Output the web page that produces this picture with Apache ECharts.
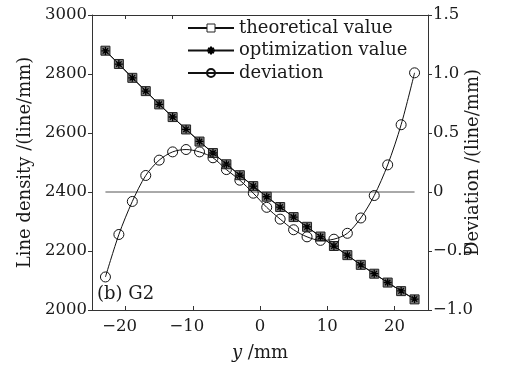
<!DOCTYPE html>
<html>
<head>
<meta charset="utf-8">
<script src="https://cdn.jsdelivr.net/npm/echarts@6/dist/echarts.min.js"></script>
<style>html,body{margin:0;padding:0;background:#fff;}#c{width:505px;height:365px;}</style>
</head>
<body>
<div id="c"></div>
<script>
var yPositions = [-23,-21,-19,-17,-15,-13,-11,-9,-7,-5,-3,-1,1,3,5,7,9,11,13,15,17,19,21,23];
var theoretical = [2879,2834,2787,2742,2697,2654,2612,2571,2532,2494,2457,2420,2384,2349,2315,2282,2249,2217,2186,2153,2123,2093,2064,2036];
var optimization = [2878.3,2833.6,2786.9,2742.1,2697.3,2654.3,2612.4,2571.3,2532.3,2494.2,2457.1,2420.0,2383.9,2348.8,2314.7,2281.6,2248.6,2216.6,2185.7,2152.8,2123.0,2093.2,2064.6,2037.0];
var deviation = [-0.72,-0.36,-0.08,0.14,0.27,0.34,0.36,0.34,0.29,0.19,0.10,-0.01,-0.13,-0.23,-0.32,-0.38,-0.41,-0.40,-0.35,-0.22,-0.03,0.23,0.57,1.01];
var xTicks = [-20,-10,0,10,20];
var topTicks = [-20,-13];
var seriesNames = ['theoretical value','optimization value','deviation'];
var panelLabel = '(b) G2';

var FONT = 'DejaVu Serif';
var TXT = '#1a1a1a';
var LINE = '#111';
var AX = '#333';
function pairs(xs, ys){ return xs.map(function(x,i){ return [x, ys[i]]; }); }
function fmtNeg(v){ return String(v).replace('-', '\u2212'); }
var star = 'path://M5,0L5,10M0,5L10,5M1.6,1.6L8.4,8.4M1.6,8.4L8.4,1.6';

var chart = echarts.init(document.getElementById('c'), null, {renderer:'canvas'});
chart.setOption({
  animation:false,
  backgroundColor:'#fff',
  textStyle:{fontFamily:FONT,color:TXT},
  grid:{left:92,right:77,top:15,bottom:55,containLabel:false,outerBoundsMode:'none'},
  legend:{
    orient:'vertical', left:182, top:14,
    itemWidth:46, itemHeight:10, itemGap:4.5,
    textStyle:{fontFamily:FONT,fontSize:18,color:TXT,lineHeight:18},
    data:[
      {name:seriesNames[0], itemStyle:{color:'#fff',borderColor:'#222',borderWidth:1}},
      {name:seriesNames[1]},
      {name:seriesNames[2]}
    ]
  },
  xAxis:[{
    type:'value', min:-25, max:25, position:'bottom',
    name:'{i|y} /mm', nameLocation:'middle', nameGap:34,
    nameTextStyle:{fontFamily:FONT,fontSize:18,color:TXT,rich:{i:{fontFamily:FONT,fontSize:18,fontStyle:'italic',color:TXT}}},
    axisLine:{show:true,onZero:false,lineStyle:{color:AX,width:1}},
    axisTick:{show:true,inside:true,length:4,customValues:xTicks,lineStyle:{color:AX}},
    axisLabel:{customValues:xTicks,margin:8,fontFamily:FONT,fontSize:16.5,color:TXT,
      formatter:function(v){ return v<0 ? '{n|'+fmtNeg(v)+'}' : String(v); },
      rich:{n:{fontFamily:FONT,fontSize:16.5,color:TXT,padding:[0,12,0,0]}}},
    splitLine:{show:false}
  },{
    type:'value', min:-25, max:25, position:'top',
    axisLine:{show:true,onZero:false,lineStyle:{color:AX,width:1}},
    axisTick:{show:true,inside:true,length:4,customValues:topTicks,lineStyle:{color:AX}},
    axisLabel:{show:false},
    splitLine:{show:false}
  }],
  yAxis:[{
    type:'value', min:2000, max:3000, interval:200, position:'left',
    name:'Line density /(line/mm)', nameLocation:'middle', nameRotate:90, nameGap:55,
    nameTextStyle:{fontFamily:FONT,fontSize:18,color:TXT},
    axisLine:{show:true,onZero:false,lineStyle:{color:AX,width:1}},
    axisTick:{show:true,inside:false,length:4,lineStyle:{color:AX}},
    axisLabel:{margin:5,fontFamily:FONT,fontSize:16.5,color:TXT,
      formatter:function(v){ return String(v); }},
    splitLine:{show:false}
  },{
    type:'value', min:-1, max:1.5, interval:0.5, position:'right',
    name:'Deviation /(line/mm)', nameLocation:'middle', nameRotate:90, nameGap:36,
    nameMoveOverlap:false,
    nameTextStyle:{fontFamily:FONT,fontSize:18,color:TXT},
    axisLine:{show:true,onZero:false,lineStyle:{color:AX,width:1}},
    axisTick:{show:true,inside:false,length:4,lineStyle:{color:AX}},
    axisLabel:{margin:5,fontFamily:FONT,fontSize:16.5,color:TXT,
      formatter:function(v){ return v===0 ? '0' : fmtNeg(v.toFixed(1)); }},
    splitLine:{show:false}
  }],
  graphic:[{
    type:'text', left:97, top:285,
    style:{text:panelLabel, fontFamily:FONT, fontSize:18, fill:TXT}
  }],
  series:[{
    name:'zero', type:'line', xAxisIndex:0, yAxisIndex:1, silent:true,
    data:[[yPositions[0],0],[yPositions[yPositions.length-1],0]],
    symbol:'none', lineStyle:{color:'#555',width:1}, z:1
  },{
    name:seriesNames[0], type:'line', xAxisIndex:0, yAxisIndex:0,
    data:pairs(yPositions, theoretical),
    symbol:'rect', symbolSize:9,
    itemStyle:{color:'#7a7a7a',borderColor:'#222',borderWidth:1},
    lineStyle:{color:LINE,width:1}, z:2
  },{
    name:seriesNames[1], type:'line', xAxisIndex:0, yAxisIndex:0,
    data:pairs(yPositions, optimization),
    symbol:star, symbolSize:8,
    itemStyle:{color:'none',borderColor:'#000',borderWidth:1.3},
    lineStyle:{color:LINE,width:1}, z:3
  },{
    name:seriesNames[2], type:'line', xAxisIndex:0, yAxisIndex:1,
    data:pairs(yPositions, deviation),
    smooth:0.3,
    symbol:'circle', symbolSize:10,
    itemStyle:{color:'none',borderColor:'#111',borderWidth:1},
    lineStyle:{color:LINE,width:1}, z:4
  }]
});
</script>
</body>
</html>
